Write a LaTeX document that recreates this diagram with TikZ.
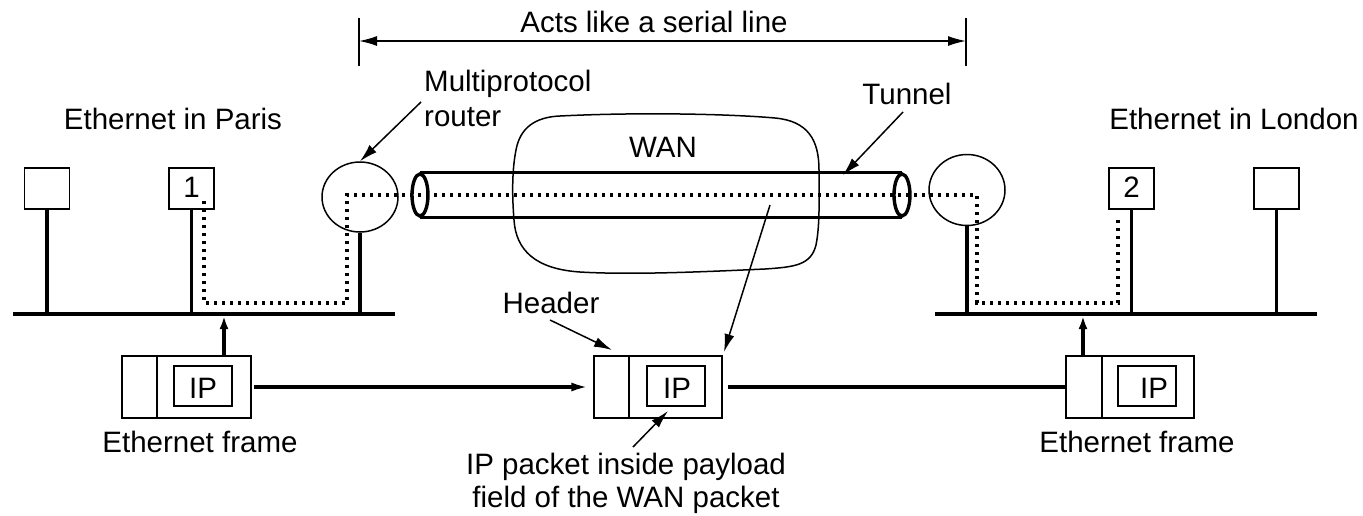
\documentclass[tikz,border=0pt]{standalone}
\usepackage{fontspec}
\setmainfont{Liberation Sans}
\usetikzlibrary{arrows.meta,shapes.geometric}
\tikzset{
  thin line/.style={line width=1.5pt},
  thick line/.style={line width=3.4pt},
  stationbox/.style={draw,thin line,rectangle,minimum width=45pt,minimum height=41pt,inner sep=0pt},
  routerbox/.style={draw,thin line,ellipse,minimum width=76pt,minimum height=70pt,inner sep=0pt},
  tubeend/.style={draw,thick line,ellipse,minimum width=16pt,minimum height=42pt,inner sep=0pt},
  packetbox/.style={draw,thin line,rectangle,minimum width=128pt,minimum height=62pt,inner sep=0pt},
  ipbox/.style={draw,thin line,rectangle,minimum width=58pt,minimum height=40pt,inner sep=0pt},
  txt/.style={inner sep=0pt,anchor=base},
  dots/.style={line width=3.6pt,dash pattern=on 3.4pt off 4.6pt},
  lab/.style={thin line,-{Latex[length=18pt,width=10pt]}},
  dim/.style={thin line,{Latex[length=18pt,width=10pt]}-{Latex[length=18pt,width=10pt]}},
  bigarrow/.style={thick line,-{Latex[length=18pt,width=9pt]}},
  uparrow/.style={thick line,-{Latex[length=13pt,width=9pt]}},
}
\begin{document}
\begin{tikzpicture}[x=1pt,y=-1pt,font=\fontsize{29.5}{34}\selectfont]
\useasboundingbox (0,0) rectangle (1363,515);

% dimension line
\coordinate (dl1) at (359,18); \coordinate (dl2) at (359,66);
\coordinate (dr1) at (966,18); \coordinate (dr2) at (966,66);
\coordinate (da) at (359,41); \coordinate (db) at (966,41);
\draw[thin line] (dl1) -- (dl2);
\draw[thin line] (dr1) -- (dr2);
\draw[dim] (da) -- (db);
\node[txt] (acts) at (654,32) {Acts like a serial line};

% labels
\node[txt] (paris) at (173,129) {Ethernet in Paris};
\node[txt] (london) at (1234,129) {Ethernet in London};
\node[txt,anchor=base west] (mp1) at (424,91) {Multiprotocol};
\node[txt,anchor=base west] (mp2) at (424,126) {router};
\node[txt] (tunnel) at (907,104) {Tunnel};
\node[txt] (wan) at (663,157) {WAN};
\node[txt] (header) at (551,313) {Header};

% buses
\coordinate (bl1) at (13,314); \coordinate (bl2) at (395,314);
\coordinate (br1) at (935,314); \coordinate (br2) at (1317,314);
\draw[thick line] (bl1) -- (bl2);
\draw[thick line] (br1) -- (br2);

% stations
\node[stationbox] (s0) at (47,188.5) {};
\node[stationbox] (s1) at (191.5,188.5) {};
\node[txt] (n1) at (191.5,197) {1};
\node[stationbox] (s2) at (1131.5,188.5) {};
\node[txt] (n2) at (1131.5,197) {2};
\node[stationbox] (s3) at (1276.5,188.5) {};
\draw[thick line] (s0.south) -- (s0.south |- bl1);
\draw[thick line] (s1.south) -- (s1.south |- bl1);
\draw[thick line] (s2.south) -- (s2.south |- br1);
\draw[thick line] (s3.south) -- (s3.south |- br1);

% routers
\node[routerbox] (r1) at (360,197) {};
\node[routerbox,minimum height=71pt] (r2) at (967,190) {};
\draw[thick line] (r1.south) -- (r1.south |- bl1);
\draw[thick line] (r2.south) -- (r2.south |- br1);

% WAN cloud
\draw[thin line] (560,116) .. controls (640,112) and (730,114) .. (775,118)
  .. controls (808,121) and (819,140) .. (819,170)
  .. controls (819,200) and (820,225) .. (816,245)
  .. controls (811,265) and (795,267) .. (765,269)
  .. controls (700,272) and (630,275) .. (580,272)
  .. controls (535,269) and (516,250) .. (514,220)
  .. controls (512,195) and (512,170) .. (516,150)
  .. controls (520,128) and (535,117) .. (560,116) -- cycle;

% tunnel
\node[tubeend] (tl) at (420,195) {};
\node[tubeend] (tr) at (902,195) {};
\draw[thick line] (tl.north) -- (tr.north);
\draw[thick line] (tl.south) -- (tr.south);

% dotted route
\coordinate (d0) at (204,201);
\coordinate (d1) at (204,303);
\coordinate (d2) at (347,303);
\coordinate (d3) at (347,195);
\coordinate (d4) at (977,195);
\coordinate (d5) at (977,303);
\coordinate (d6) at (1118,303);
\coordinate (d7) at (1118,218);
\draw[dots] (d0) -- (d1) -- (d2) -- (d3) -- (d4) -- (d5) -- (d6) -- (d7);

% packets
\node[packetbox,minimum width=129pt] (p1) at (186.5,387) {};
\node[ipbox] (i1) at (203,386) {};
\node[txt] (ip1) at (203,398) {IP};
\draw[thin line] (157,356) -- (157,418);

\node[packetbox] (p2) at (658,387) {};
\node[ipbox] (i2) at (676,386) {};
\node[txt] (ip2) at (677,398) {IP};
\draw[thin line] (629,356) -- (629,418);

\node[packetbox] (p3) at (1130,387) {};
\node[ipbox] (i3) at (1147,386) {};
\node[txt] (ip3) at (1154,398) {IP};
\draw[thin line] (1102,356) -- (1102,418);

\draw[bigarrow,shorten <=2pt,shorten >=4pt] (p1.east) -- (p2.west);
\draw[thick line,shorten <=5pt] (p2.east) -- (p3.west);

\coordinate (u1a) at (224,356); \coordinate (u1b) at (224,316);
\coordinate (u2a) at (1083,356); \coordinate (u2b) at (1083,316);
\draw[uparrow] (u1a) -- (u1b);
\draw[uparrow] (u2a) -- (u2b);

\node[txt] (ef1) at (200,452) {Ethernet frame};
\node[txt] (ef2) at (1137,452) {Ethernet frame};
\node[txt] (bt1) at (626,474) {IP packet inside payload};
\node[txt] (bt2) at (626,507) {field of the WAN packet};

% label arrows
\coordinate (mpA) at (421,102);
\draw[lab] (mpA) -- (r1.north);
\coordinate (tuA) at (903,112); \coordinate (tuB) at (843,175);
\draw[lab] (tuA) -- (tuB);
\coordinate (hdA) at (550,320); \coordinate (hdB) at (612,350);
\draw[lab] (hdA) -- (hdB);
\coordinate (tlA) at (770,205); \coordinate (tlB) at (724,352);
\draw[lab] (tlA) -- (tlB);
\coordinate (ipA) at (633,447); \coordinate (ipB) at (668,411);
\draw[lab] (ipA) -- (ipB);
\end{tikzpicture}
\end{document}
